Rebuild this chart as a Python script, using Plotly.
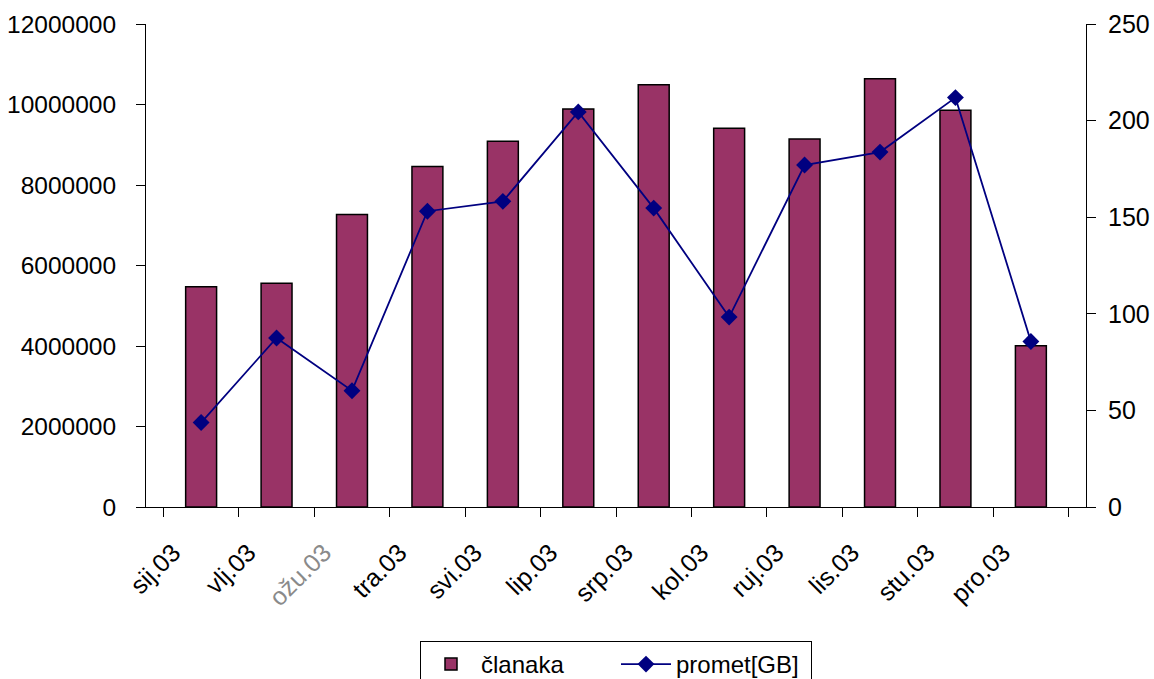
import plotly.graph_objects as go

categories = ["sij.03", "vlj.03", "ožu.03", "tra.03", "svi.03", "lip.03",
              "srp.03", "kol.03", "ruj.03", "lis.03", "stu.03", "pro.03"]
clanaka = [5475000, 5560000, 7270000, 8460000, 9090000, 9890000,
           10490000, 9410000, 9145000, 10640000, 9860000, 4006000]
promet_gb = [43.7, 87.5, 60.2, 153.1, 158.2, 204.5,
             154.7, 98.3, 177.0, 183.7, 211.9, 85.7]

left_ticks = [0, 2000000, 4000000, 6000000, 8000000, 10000000, 12000000]
right_ticks = [0, 50, 100, 150, 200, 250]

FONT = "Liberation Sans, Arial, sans-serif"

# the "ožu.03" label is drawn faint in the original
tick_text = [("<span style='color:#8a8a8a'>%s</span>" % c) if c == "ožu.03" else c
             for c in categories]

fig = go.Figure()
fig.add_trace(go.Bar(
    x=categories, y=clanaka, name="članaka",
    marker=dict(color="#993366", line=dict(color="black", width=1.5)),
    yaxis="y",
))
fig.add_trace(go.Scatter(
    x=categories, y=promet_gb, name="promet[GB]", mode="lines+markers",
    line=dict(color="#000080", width=1.8),
    marker=dict(symbol="diamond", size=13, color="#000080"),
    yaxis="y2",
))

fig.update_layout(
    width=1154, height=679,
    margin=dict(l=146, r=68, t=24, b=172),
    paper_bgcolor="white", plot_bgcolor="white",
    font=dict(family=FONT, size=25, color="black"),
    bargap=0.59,
    showlegend=True,
    legend=dict(
        orientation="h", x=0.5, xanchor="center",
        yref="container", y=0.056, yanchor="top",
        bordercolor="black", borderwidth=1, bgcolor="white",
        font=dict(family=FONT, size=24),
        itemwidth=50, entrywidth=130,
    ),
    xaxis=dict(
        type="category", tickangle=-45, showgrid=False, automargin=False,
        tickvals=categories, ticktext=tick_text,
        showline=True, linecolor="black", linewidth=1,
        ticks="outside", ticklen=9, tickcolor="black", tickson="boundaries",
        tickfont=dict(size=25), ticklabelstandoff=20, ticklabelshift=-28,
    ),
    yaxis=dict(
        range=[0, 12000000], tickvals=left_ticks,
        ticktext=[str(v) for v in left_ticks], automargin=False,
        showgrid=False, zeroline=False,
        showline=True, linecolor="black", linewidth=1,
        ticks="outside", ticklen=9, tickcolor="black",
        ticklabelstandoff=15, tickfont=dict(size=24.5),
    ),
    yaxis2=dict(
        range=[0, 250], tickvals=right_ticks, overlaying="y", side="right",
        showgrid=False, zeroline=False, automargin=False,
        showline=True, linecolor="black", linewidth=1,
        ticks="outside", ticklen=9, tickcolor="black",
        ticklabelstandoff=7, tickfont=dict(size=25),
    ),
)

fig.write_html(
    "out.html",
    config={"displayModeBar": False},
    post_script="document.body.style.margin='0';document.body.style.overflow='hidden';",
)
